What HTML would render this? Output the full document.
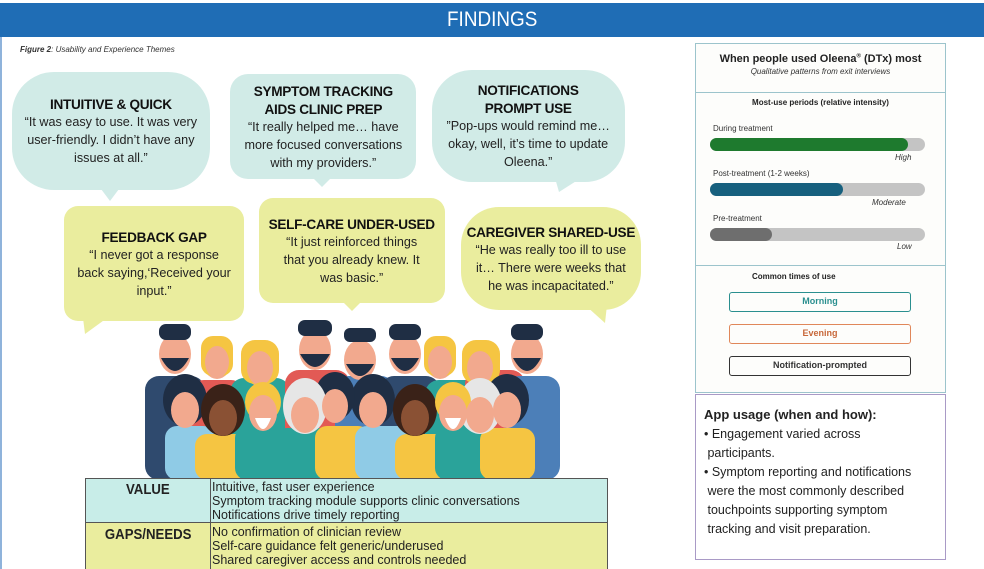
<!DOCTYPE html>
<html><head><meta charset="utf-8"><style>
*{margin:0;padding:0;box-sizing:border-box}
body{width:984px;height:569px;background:#fff;position:relative;overflow:hidden;font-family:"Liberation Sans",sans-serif;color:#222}
.a{position:absolute}
.hdr{left:0;top:3px;width:984px;height:34px;background:#1f6db5;color:#fff;font-size:21px;text-align:center;line-height:34px}
.bub{position:absolute;text-align:center;font-size:13px;line-height:18px;color:#222;display:flex;flex-direction:column;justify-content:center;align-items:center;white-space:nowrap}
.bub>div{transform:scaleX(.97)}
.bub b{font-weight:bold;font-size:14px;display:block;color:#111;letter-spacing:-0.3px}
.t{background:#d1ebe7}.y{background:#eaed9e}
.tail{position:absolute;width:0;height:0;border-left:9px solid transparent;border-right:9px solid transparent}
.track{position:absolute;left:710px;width:215px;height:13px;border-radius:7px;background:#c4c4c4}
.fill{height:13px;border-radius:7px}
.lbl{position:absolute;font-size:8px;color:#333}
.pill{position:absolute;left:729px;width:182px;height:20px;border-radius:3px;border:1.5px solid;text-align:center;font-size:9px;font-weight:bold;line-height:17px}
.cond{display:inline-block;transform:scaleX(.88);transform-origin:left}
</style></head><body>
<div class="a" style="left:0;top:37px;width:2px;height:532px;background:#8fb3db"></div>
<div class="a hdr"><span style="display:inline-block;transform:scaleX(.9)">FINDINGS</span></div>
<div class="a" style="left:20px;top:45px;font-size:8px;font-style:italic;color:#333"><b>Figure 2</b>: Usability and Experience Themes</div>

<div class="bub t" style="left:12px;top:72px;width:198px;height:118px;border-radius:42px"><div><b>INTUITIVE &amp; QUICK</b>“It was easy to use. It was very<br>user-friendly. I didn’t have any<br>issues at all.”</div></div>
<div class="tail" style="left:101px;top:189px;border-top:12px solid #d1ebe7"></div>
<div class="bub t" style="left:230px;top:74px;width:186px;height:105px;border-radius:18px"><div><b>SYMPTOM TRACKING<br>AIDS CLINIC PREP</b>“It really helped me… have<br>more focused conversations<br>with my providers.”</div></div>
<div class="tail" style="left:313px;top:178px;border-top:9px solid #d1ebe7"></div>
<div class="bub t" style="left:432px;top:70px;width:193px;height:112px;border-radius:40px"><div><b>NOTIFICATIONS<br>PROMPT USE</b>”Pop-ups would remind me…<br>okay, well, it’s time to update<br>Oleena.”</div></div>
<div class="tail" style="left:555px;top:178px;border-left:4px solid transparent;border-right:22px solid transparent;border-top:14px solid #d1ebe7"></div>

<div class="bub y" style="left:64px;top:206px;width:180px;height:115px;border-radius:14px"><div><b>FEEDBACK GAP</b>“I never got a response<br>back saying,‘Received your<br>input.”</div></div>
<div class="tail" style="left:83px;top:318px;border-left:2px solid transparent;border-right:22px solid transparent;border-top:16px solid #eaed9e"></div>
<div class="bub y" style="left:259px;top:198px;width:186px;height:105px;border-radius:14px"><div><b>SELF-CARE UNDER-USED</b>“It just reinforced things<br>that you already knew. It<br>was basic.”</div></div>
<div class="tail" style="left:343px;top:302px;border-top:9px solid #eaed9e"></div>
<div class="bub y" style="left:461px;top:207px;width:180px;height:103px;border-radius:38px"><div><b>CAREGIVER SHARED-USE</b>“He was really too ill to use<br>it… There were weeks that<br>he was incapacitated.”</div></div>
<div class="tail" style="left:585px;top:305px;border-left:20px solid transparent;border-right:2px solid transparent;border-top:18px solid #eaed9e"></div>

<svg class="a" style="left:135px;top:318px" width="440" height="162" viewBox="0 0 440 162">
<rect x="10" y="58" width="60" height="104" rx="14" fill="#2f4a6e"/>
<rect x="55" y="62" width="55" height="100" rx="14" fill="#e25a55"/>
<rect x="95" y="60" width="60" height="102" rx="14" fill="#2aa39a"/>
<rect x="150" y="52" width="65" height="110" rx="14" fill="#e25a55"/>
<rect x="200" y="58" width="60" height="104" rx="14" fill="#4c7fb8"/>
<rect x="245" y="58" width="60" height="104" rx="14" fill="#2f4a6e"/>
<rect x="290" y="62" width="55" height="100" rx="14" fill="#2aa39a"/>
<rect x="330" y="52" width="60" height="110" rx="14" fill="#e25a55"/>
<rect x="370" y="58" width="55" height="104" rx="14" fill="#4c7fb8"/>
<g fill="#f2a98e">
<ellipse cx="40" cy="36" rx="16" ry="20"/><ellipse cx="82" cy="42" rx="15" ry="19"/><ellipse cx="125" cy="48" rx="17" ry="20"/><ellipse cx="180" cy="32" rx="16" ry="20"/><ellipse cx="225" cy="42" rx="16" ry="20"/><ellipse cx="270" cy="36" rx="16" ry="20"/><ellipse cx="305" cy="42" rx="15" ry="19"/><ellipse cx="345" cy="48" rx="17" ry="20"/><ellipse cx="392" cy="36" rx="16" ry="20"/>
</g>
<g fill="#1f2e44"><rect x="24" y="6" width="32" height="16" rx="7"/><path d="M26 40 Q40 66 54 40 Z"/><rect x="163" y="2" width="34" height="16" rx="7"/><path d="M165 36 Q180 62 195 36 Z"/><rect x="209" y="10" width="32" height="14" rx="6"/><path d="M211 46 Q225 70 239 46 Z"/><rect x="254" y="6" width="32" height="16" rx="7"/><path d="M256 40 Q270 66 284 40Z"/><rect x="376" y="6" width="32" height="16" rx="7"/><path d="M378 40 Q392 66 406 40Z"/></g>
<g fill="#f5c542"><rect x="66" y="18" width="32" height="40" rx="12"/><rect x="106" y="22" width="38" height="44" rx="14"/><rect x="289" y="18" width="32" height="40" rx="12"/><rect x="327" y="22" width="38" height="44" rx="14"/></g>
<g fill="#f2a98e"><ellipse cx="82" cy="44" rx="12" ry="16"/><ellipse cx="125" cy="50" rx="13" ry="17"/><ellipse cx="305" cy="44" rx="12" ry="16"/><ellipse cx="345" cy="50" rx="13" ry="17"/></g>
<rect x="30" y="108" width="50" height="54" rx="12" fill="#8fcbe6"/>
<rect x="60" y="116" width="60" height="46" rx="12" fill="#f5c542"/>
<rect x="100" y="108" width="55" height="54" rx="12" fill="#2aa39a"/>
<rect x="140" y="110" width="55" height="52" rx="12" fill="#2aa39a"/>
<rect x="180" y="108" width="55" height="54" rx="12" fill="#f5c542"/>
<rect x="220" y="108" width="55" height="54" rx="12" fill="#8fcbe6"/>
<rect x="260" y="116" width="60" height="46" rx="12" fill="#f5c542"/>
<rect x="300" y="108" width="55" height="54" rx="12" fill="#2aa39a"/>
<rect x="345" y="110" width="55" height="52" rx="12" fill="#f5c542"/>
<g fill="#1f2e44"><ellipse cx="50" cy="82" rx="22" ry="26"/><ellipse cx="238" cy="82" rx="22" ry="26"/><ellipse cx="372" cy="82" rx="22" ry="26"/><ellipse cx="200" cy="78" rx="20" ry="24"/></g>
<g fill="#3a2218"><ellipse cx="88" cy="92" rx="22" ry="26"/><ellipse cx="280" cy="92" rx="22" ry="26"/></g>
<g fill="#e6e6e6"><ellipse cx="170" cy="88" rx="22" ry="28"/><ellipse cx="345" cy="88" rx="22" ry="28"/></g>
<g fill="#f5c542"><ellipse cx="128" cy="84" rx="18" ry="20"/><ellipse cx="318" cy="84" rx="18" ry="20"/></g>
<g fill="#f2a98e"><ellipse cx="50" cy="92" rx="14" ry="18"/><ellipse cx="128" cy="95" rx="14" ry="18"/><ellipse cx="170" cy="97" rx="14" ry="18"/><ellipse cx="200" cy="88" rx="13" ry="17"/><ellipse cx="238" cy="92" rx="14" ry="18"/><ellipse cx="318" cy="95" rx="14" ry="18"/><ellipse cx="345" cy="97" rx="14" ry="18"/><ellipse cx="372" cy="92" rx="14" ry="18"/></g>
<g fill="#8a5134"><ellipse cx="88" cy="100" rx="14" ry="18"/><ellipse cx="280" cy="100" rx="14" ry="18"/></g>
<g fill="#fff"><path d="M120 100 Q128 122 136 100Z"/><path d="M310 100 Q318 122 326 100Z"/></g>
</svg>

<div class="a" style="left:85px;top:478px;width:523px;height:91px;border:1px solid #555;font-size:12.5px;line-height:14px">
<div style="height:44px;background:#c8ede8;border-bottom:1px solid #555;display:flex">
<div style="width:125px;border-right:1px solid #555;text-align:center;font-size:15px;font-weight:bold;padding-top:4px"><span class="cond" style="transform-origin:center">VALUE</span></div>
<div style="padding-left:1px;padding-top:1px;white-space:nowrap">Intuitive, fast user experience<br>Symptom tracking module supports clinic conversations<br>Notifications drive timely reporting</div></div>
<div style="height:46px;background:#eaed9e;display:flex">
<div style="width:125px;border-right:1px solid #555;text-align:center;font-size:15px;font-weight:bold;padding-top:5px"><span class="cond" style="transform-origin:center">GAPS/NEEDS</span></div>
<div style="padding-left:1px;padding-top:2px;white-space:nowrap">No confirmation of clinician review<br>Self-care guidance felt generic/underused<br>Shared caregiver access and controls needed</div></div>
</div>

<div class="a" style="left:695px;top:43px;width:251px;height:350px;border:1.5px solid #9cc4cc;background:#fdfdfb"></div>
<div class="a" style="left:696px;top:92px;width:249px;height:1px;background:#9cc4cc"></div>
<div class="a" style="left:696px;top:265px;width:249px;height:1px;background:#9cc4cc"></div>
<div class="a" style="left:696px;top:53px;width:249px;text-align:center;font-size:11px;font-weight:bold">When people used Oleena<sup style="font-size:6px">®</sup> (DTx) most</div>
<div class="a" style="left:696px;top:67px;width:249px;text-align:center;font-size:8px;font-style:italic;color:#333">Qualitative patterns from exit interviews</div>
<div class="a" style="left:696px;top:98px;width:249px;text-align:center;font-size:8px;font-weight:bold">Most-use periods (relative intensity)</div>
<div class="lbl" style="left:713px;top:124px">During treatment</div>
<div class="track" style="top:138px"><div class="fill" style="width:198px;background:#1e7a2e"></div></div>
<div class="lbl" style="left:895px;top:153px;font-style:italic">High</div>
<div class="lbl" style="left:713px;top:169px">Post-treatment (1-2 weeks)</div>
<div class="track" style="top:183px"><div class="fill" style="width:133px;background:#17607e"></div></div>
<div class="lbl" style="left:872px;top:198px;font-style:italic">Moderate</div>
<div class="lbl" style="left:713px;top:214px">Pre-treatment</div>
<div class="track" style="top:228px"><div class="fill" style="width:62px;background:#6e6e6e"></div></div>
<div class="lbl" style="left:897px;top:242px;font-style:italic">Low</div>
<div class="a" style="left:752px;top:272px;font-size:8px;font-weight:bold">Common times of use</div>
<div class="pill" style="top:292px;border-color:#2a8f8f;color:#2a8f8f">Morning</div>
<div class="pill" style="top:324px;border-color:#e0875a;color:#c8683a">Evening</div>
<div class="pill" style="top:356px;border-color:#333;color:#333">Notification-prompted</div>

<div class="a" style="left:695px;top:394px;width:251px;height:166px;border:1.5px solid #a99ac6;padding:10px 8px;font-size:12.5px;line-height:19px;white-space:nowrap">
<span style="font-size:13px;font-weight:bold">App usage (when and how):</span><br>
• Engagement varied across<br>&nbsp;participants.<br>
• Symptom reporting and notifications<br>&nbsp;were the most commonly described<br>&nbsp;touchpoints supporting symptom<br>&nbsp;tracking and visit preparation.
</div>
</body></html>
